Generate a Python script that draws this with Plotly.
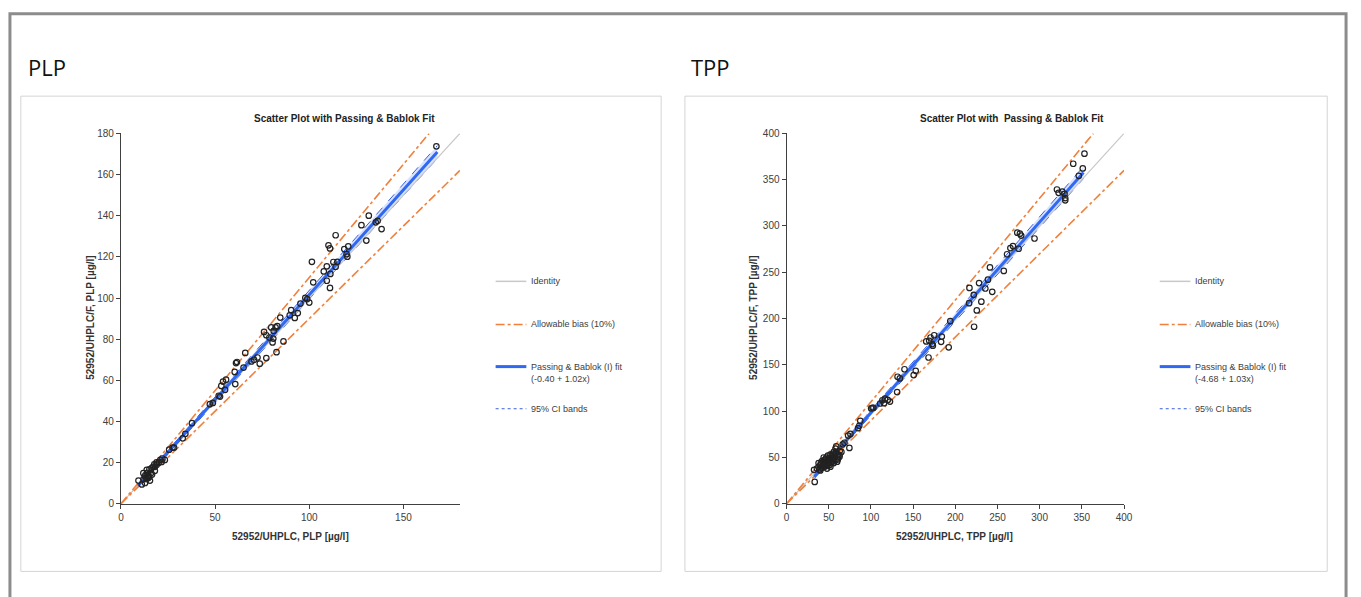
import numpy as np
import plotly.graph_objects as go

W, H = 1361, 597

# ---------------- data ----------------
plp_x = [167.5, 131.6, 127.7, 135.3, 136.3, 138.4, 130.3, 114.0, 110.2, 111.0, 118.6, 120.7,
         119.8, 120.2, 101.4, 112.8, 114.9, 114.0, 109.3, 107.7, 111.2, 109.3, 102.1, 111.0,
         97.9, 98.9, 100.0, 95.3, 90.4, 93.9, 89.6, 92.3, 84.6,
         76.0, 77.2, 79.8, 81.1, 82.1, 83.0, 78.8, 80.9, 80.5, 86.3, 82.6, 77.2, 73.7, 70.7,
         72.5, 69.3, 66.0, 65.1, 61.1, 61.6, 60.4, 60.7, 55.8, 54.2, 53.3, 55.3, 51.9, 52.6,
         48.8, 47.2, 37.7, 34.2, 32.8, 27.4, 28.2, 25.6, 23.3, 21.6, 20.9, 18.9, 17.7, 18.1,
         16.3, 15.1, 13.7, 11.9, 12.8, 14.6, 15.4, 9.3, 11.1, 12.8, 13.7,
         13.0, 14.0, 16.0, 17.0, 19.0, 20.0, 22.0, 12.0, 15.0, 18.0, 14.5, 16.5]
plp_y = [173.7, 140.0, 135.4, 136.8, 137.5, 133.5, 127.9, 130.5, 125.6, 124.1, 123.8, 125.1,
         121.3, 120.1, 117.6, 117.5, 117.6, 115.2, 115.4, 112.9, 111.7, 108.4, 107.6, 104.9,
         100.1, 99.5, 97.8, 97.3, 94.1, 92.7, 91.6, 90.3, 90.5,
         83.5, 81.9, 85.7, 84.0, 85.7, 86.3, 80.8, 80.3, 78.4, 78.9, 73.7, 70.8, 68.1, 70.0,
         71.1, 69.2, 73.3, 66.2, 68.4, 68.9, 64.1, 58.2, 60.3, 59.4, 57.3, 55.4, 52.5, 52.1,
         49.0, 48.4, 39.2, 34.0, 31.8, 27.3, 27.3, 26.3, 21.3, 20.3, 21.3, 20.1, 19.2, 18.1,
         17.3, 16.7, 16.5, 14.9, 13.3, 12.7, 11.3, 11.3, 9.4, 10.1, 12.0,
         14.0, 15.0, 15.0, 18.0, 19.0, 20.0, 22.0, 12.0, 13.0, 16.0, 13.8, 14.2]

tpp_x = [353.1, 339.8, 351.1, 346.4, 320.5, 322.5, 326.8, 329.5, 330.3, 330.3, 293.9, 273.5,
         276.6, 278.1, 275.1, 268.4, 265.3, 261.4, 257.5, 241.1, 238.7, 235.6, 243.8, 228.2,
         216.8, 221.9, 216.4, 230.9, 225.5, 222.3, 194.1, 192.2, 184.0, 183.2, 175.0, 170.7,
         169.1, 172.7, 173.4, 165.6, 168.3, 153.1, 150.7, 139.8, 131.6, 134.3, 131.1, 116.7,
         113.6, 119.9, 122.6, 110.9, 115.5, 101.8, 100.3, 103.0, 87.4, 84.7, 86.2, 75.7, 73.0,
         74.5, 68.6, 66.6, 62.8, 62.8, 60.0, 60.8, 56.1, 58.1, 58.9, 32.6, 33.4,
         36, 38, 39, 40, 41, 42, 42, 43, 44, 44, 45, 45, 46, 46, 47, 47, 48, 48, 49, 49, 50, 50,
         51, 51, 52, 52, 53, 53, 54, 55, 55, 56, 57, 58, 59, 60, 61, 63, 65, 48, 52, 56, 40, 44, 38]
tpp_y = [378.1, 367.2, 362.2, 354.2, 339.4, 335.8, 337.2, 334.7, 330.2, 327.7, 286.5, 292.8,
         291.7, 289.6, 275.4, 278.3, 276.2, 269.5, 251.5, 255.3, 242.0, 232.5, 228.9, 238.4,
         233.1, 225.7, 216.6, 218.3, 208.8, 191.2, 197.2, 169.0, 180.6, 174.9, 182.0, 179.6,
         176.0, 172.5, 170.7, 175.3, 158.0, 143.6, 139.0, 145.3, 137.2, 135.4, 120.6, 113.5,
         111.8, 112.2, 110.4, 108.3, 108.7, 103.7, 103.0, 103.7, 89.6, 81.8, 84.3, 75.4, 73.7,
         60.3, 65.9, 64.2, 52.6, 50.8, 45.5, 47.9, 56.1, 59.6, 62.1, 36.7, 23.6,
         38, 40, 37, 42, 44, 39, 46, 41, 43, 47, 40, 45, 42, 48, 44, 50, 41, 46, 43, 52, 45, 48,
         42, 50, 47, 53, 44, 49, 51, 46, 54, 49, 52, 47, 55, 50, 53, 57, 56, 38, 40, 44, 36, 50, 44]

# fit / CI parameters (intercept, slope) and x-extent of fit
plp_fit = (-0.40, 1.02)
plp_ci_lo = (-1.0, 1.005)
plp_ci_hi = (0.2, 1.035)
plp_fit_range = (9.0, 168.0)
tpp_fit = (-4.68, 1.03)
tpp_ci_lo = (-6.0, 1.015)
tpp_ci_hi = (-3.5, 1.045)
tpp_fit_range = (33.0, 352.0)
bias = 0.10

plp_axis_max = 180
tpp_axis_max = 400
plp_xtick = 50
plp_ytick = 20
tpp_tick = 50

plp_fit_label = "(-0.40 + 1.02x)"
tpp_fit_label = "(-4.68 + 1.03x)"

# ---------------- styling ----------------
GRAY_ID = "#c8c8c8"
ORANGE = "#f0803c"
BLUE = "#3068f2"
CI_BLUE = "#3a5fe0"
AXC = "#404040"
FONT = "Liberation Sans, Arial, sans-serif"


def px(x):
    return x / W


def py(y):
    return 1 - y / H


fig = go.Figure()

panels = [
    dict(xa="x", ya="y", xs=plp_x, ys=plp_y, fit=plp_fit, lo=plp_ci_lo, hi=plp_ci_hi,
         fr=plp_fit_range, m=plp_axis_max),
    dict(xa="x2", ya="y2", xs=tpp_x, ys=tpp_y, fit=tpp_fit, lo=tpp_ci_lo, hi=tpp_ci_hi,
         fr=tpp_fit_range, m=tpp_axis_max),
]

for p in panels:
    m = p["m"]
    fx = np.array(p["fr"])
    fig.add_trace(go.Scatter(x=fx, y=p["lo"][0] + p["lo"][1] * fx, xaxis=p["xa"], yaxis=p["ya"],
                             mode="lines", line=dict(color=CI_BLUE, width=1, dash="dash"),
                             showlegend=False, hoverinfo="skip"))
    fig.add_trace(go.Scatter(x=fx, y=p["hi"][0] + p["hi"][1] * fx, xaxis=p["xa"], yaxis=p["ya"],
                             mode="lines", line=dict(color=CI_BLUE, width=1, dash="dash"),
                             fill="tonexty", fillcolor="rgba(120,160,255,0.30)",
                             showlegend=False, hoverinfo="skip"))
    fig.add_trace(go.Scatter(x=[0, m], y=[0, m], xaxis=p["xa"], yaxis=p["ya"], mode="lines",
                             line=dict(color=GRAY_ID, width=1.2), showlegend=False))
    fig.add_trace(go.Scatter(x=[0, m / (1 + bias)], y=[0, m], xaxis=p["xa"], yaxis=p["ya"],
                             mode="lines", line=dict(color=ORANGE, width=1.6, dash="dashdot"),
                             showlegend=False))
    fig.add_trace(go.Scatter(x=[0, m], y=[0, m * (1 - bias)], xaxis=p["xa"], yaxis=p["ya"],
                             mode="lines", line=dict(color=ORANGE, width=1.6, dash="dashdot"),
                             showlegend=False))
    fig.add_trace(go.Scatter(x=fx, y=p["fit"][0] + p["fit"][1] * fx, xaxis=p["xa"], yaxis=p["ya"],
                             mode="lines", line=dict(color=BLUE, width=3), showlegend=False))
    fig.add_trace(go.Scatter(x=p["xs"], y=p["ys"], xaxis=p["xa"], yaxis=p["ya"], mode="markers",
                             marker=dict(symbol="circle-open", size=5.5, color="#222222",
                                         line=dict(width=1.2, color="#222222")),
                             showlegend=False))

ydom = [py(508), py(130)]
axis_common = dict(showgrid=False, zeroline=False, showline=True, linecolor=AXC, linewidth=1,
                   ticks="outside", ticklen=4, tickcolor=AXC, tickwidth=1,
                   tickfont=dict(family=FONT, size=10, color=AXC))
fig.update_layout(
    width=W, height=H, margin=dict(l=0, r=0, t=0, b=0),
    paper_bgcolor="white", plot_bgcolor="white", showlegend=False,
    xaxis=dict(domain=[px(119), px(461)], range=[0, plp_axis_max], dtick=plp_xtick, tick0=0,
               anchor="y", **axis_common),
    yaxis=dict(domain=ydom, range=[0, plp_axis_max], dtick=plp_ytick, tick0=0, anchor="x",
               **axis_common),
    xaxis2=dict(domain=[px(790.5), px(1131)], range=[0, tpp_axis_max], dtick=tpp_tick, tick0=0,
                anchor="y2", **axis_common),
    yaxis2=dict(domain=ydom, range=[0, tpp_axis_max], dtick=tpp_tick, tick0=0, anchor="x2",
                **axis_common),
)

shapes = []
# outer frame: open path (bottom edge lies below the page), square corners
fl, fr_, ft, fb = px(7), px(1355), py(8), py(650)
shapes.append(dict(type="path", xref="paper", yref="paper",
                   path=f"M {fl},{fb} L {fl},{ft} L {fr_},{ft} L {fr_},{fb}",
                   line=dict(color="#8c8c8c", width=3), layer="below"))
for x0, x1 in [(18, 664), (688, 1336)]:
    shapes.append(dict(type="rect", xref="paper", yref="paper", x0=px(x0), x1=px(x1), y0=py(577),
                       y1=py(92), line=dict(color="#d4d4d4", width=1), layer="below"))

annotations = []


def text(x, y, s, size=9, bold=False, xanchor="left", color=AXC, angle=0, family=FONT):
    annotations.append(dict(xref="paper", yref="paper", x=px(x), y=py(y),
                            text=(f"<b>{s}</b>" if bold else s),
                            showarrow=False, xanchor=xanchor, yanchor="middle", textangle=angle,
                            font=dict(family=family, size=size, color=color)))


for lx, fit_label in [(497, plp_fit_label), (1167, tpp_fit_label)]:
    items = [
        (281, dict(color=GRAY_ID, width=1.5)),
        (325, dict(color=ORANGE, width=1.6, dash="dashdot")),
        (368, dict(color=BLUE, width=3)),
        (411, dict(color=CI_BLUE, width=1, dash="dot")),
    ]
    for yy, ln in items:
        shapes.append(dict(type="line", xref="paper", yref="paper", x0=px(lx), x1=px(lx + 31),
                           y0=py(yy), y1=py(yy), line=ln))
    tx = lx + 34
    text(tx, 281, "Identity")
    text(tx, 325, "Allowable bias (10%)")
    text(tx, 368, "Passing &amp; Bablok (I) fit")
    text(tx, 381, fit_label)
    text(tx, 411, "95% CI bands")

text(23, 62, "PLP", size=22, color="#111111", family="Open Sans, sans-serif")
text(692, 62, "TPP", size=22, color="#111111", family="Open Sans, sans-serif")
text(345, 115, "Scatter Plot with Passing &amp; Bablok Fit", size=10, bold=True, xanchor="center",
     color="#222222")
text(1018, 115, "Scatter Plot with  Passing &amp; Bablok Fit", size=10, bold=True, xanchor="center",
     color="#222222")
text(290, 541, "52952/UHPLC, PLP [µg/l]", size=10, bold=True, xanchor="center", color="#333333")
text(960, 541, "52952/UHPLC, TPP [µg/l]", size=10, bold=True, xanchor="center", color="#333333")
text(88, 318, "52952/UHPLC/F, PLP [µg/l]", size=10, bold=True, xanchor="center", color="#333333",
     angle=-90)
text(757, 318, "52952/UHPLC/F, TPP [µg/l]", size=10, bold=True, xanchor="center", color="#333333",
     angle=-90)

fig.update_layout(shapes=shapes, annotations=annotations)
fig.write_html("out.html")
